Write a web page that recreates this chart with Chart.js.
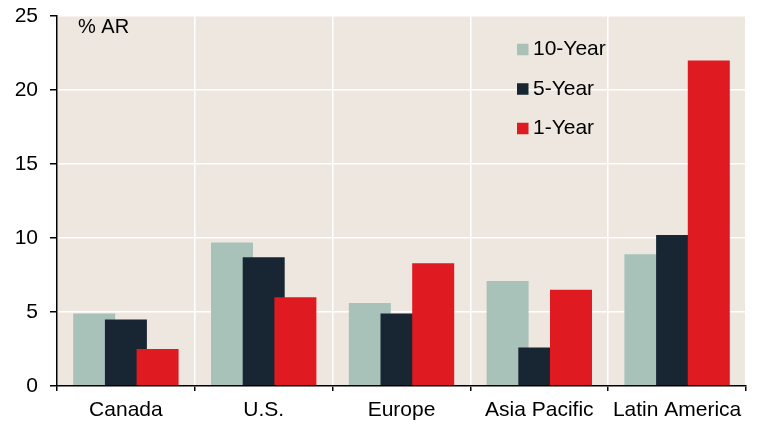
<!DOCTYPE html>
<html>
<head>
<meta charset="utf-8">
<script src="https://cdn.jsdelivr.net/npm/chart.js@4.4.0/dist/chart.umd.min.js"></script>
<style>
  body { margin: 0; background: #fff; }
  canvas { display: block; }
</style>
</head>
<body>
<canvas id="returnsChart" width="762" height="426"></canvas>
<script>
const categories = ['Canada', 'U.S.', 'Europe', 'Asia Pacific', 'Latin America']
const seriesNames = ['10-Year', '5-Year', '1-Year']
const tenYear = [4.9, 9.7, 5.6, 7.1, 8.9]
const fiveYear = [4.5, 8.7, 4.9, 2.6, 10.2]
const oneYear = [2.5, 6.0, 8.3, 6.5, 22.0]
const yTicks = [0, 5, 10, 15, 20, 25]
const unitLabel = '% AR'

const colors = ['#a8c2b9', '#182633', '#df1a20']
const font = "'Liberation Sans', Arial, sans-serif"
const textColor = '#000'

// beige plot area, then bars in dataset order so the right-hand bar sits on top
const areaPlugin = {
  id: 'areaPlugin',
  beforeDraw(chart) {
    const { ctx, chartArea: a } = chart
    ctx.save()
    ctx.fillStyle = '#eee7e0'
    ctx.fillRect(a.left, a.top, a.right - a.left, a.bottom - a.top)
    ctx.restore()
  },
  beforeDatasetsDraw(chart) {
    const { ctx, chartArea: a } = chart
    chart.getSortedVisibleDatasetMetas().forEach(meta => {
      ctx.save()
      ctx.beginPath()
      ctx.rect(a.left, a.top, a.right - a.left, a.bottom - a.top)
      ctx.clip()
      meta.controller.draw()
      ctx.restore()
    })
    return false
  },
  afterDraw(chart) {
    const { ctx } = chart
    ctx.save()
    ctx.textBaseline = 'middle'
    ctx.fillStyle = textColor
    ctx.font = '20px ' + font
    ctx.fillText(unitLabel, 78, 27)
    ctx.font = '21px ' + font
    chart.data.datasets.forEach((ds, i) => {
      const yc = 49.5 + i * 39.5
      ctx.fillStyle = ds.backgroundColor
      ctx.fillRect(517, yc - 5.75, 11.5, 11.5)
      ctx.fillStyle = textColor
      ctx.fillText(ds.label, 533, yc)
    })
    ctx.restore()
  }
}

const makeSet = (label, data, color) => ({
  label: label,
  data: data,
  backgroundColor: color,
  borderWidth: 0,
  categoryPercentage: 0.69,
  barPercentage: 1.325
})

const config = {
  type: 'bar',
  data: {
    labels: categories,
    datasets: [
      makeSet(seriesNames[0], tenYear, colors[0]),
      makeSet(seriesNames[1], fiveYear, colors[1]),
      makeSet(seriesNames[2], oneYear, colors[2])
    ]
  },
  options: {
    responsive: false,
    animation: false,
    devicePixelRatio: 1,
    layout: { padding: { top: 16, right: 16, left: 0, bottom: 0 } },
    plugins: {
      legend: { display: false },
      tooltip: { enabled: false }
    },
    scales: {
      x: {
        afterFit: s => { s.height = 40; s.paddingLeft = 0; s.paddingRight = 0 },
        grid: { color: '#ffffff', lineWidth: 1.5, offset: true, tickColor: '#000', tickLength: 5 },
        border: { color: '#000', width: 1.5, z: 1 },
        ticks: { color: textColor, font: { family: font, size: 21 }, padding: 7, maxRotation: 0 }
      },
      y: {
        min: 0,
        max: 25,
        afterFit: s => { s.width = 57; s.paddingTop = 0; s.paddingBottom = 0 },
        afterBuildTicks: s => { s.ticks = yTicks.map(v => ({ value: v })) },
        grid: { color: '#ffffff', lineWidth: 1.5, tickColor: '#000', tickLength: 7 },
        border: { color: '#000', width: 1.5, z: 1 },
        ticks: { color: textColor, font: { family: font, size: 21 }, padding: 12 }
      }
    }
  },
  plugins: [areaPlugin]
}

new Chart(document.getElementById('returnsChart'), config)
</script>
</body>
</html>
